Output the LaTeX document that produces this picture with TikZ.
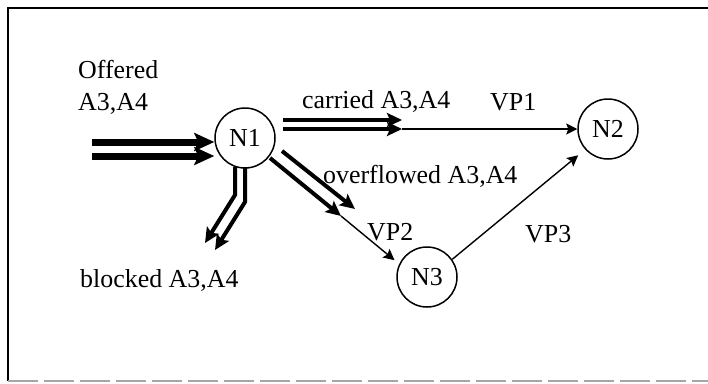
\documentclass[tikz,border=0pt]{standalone}
\usepackage{fontspec}
\setmainfont{Liberation Serif}
\usetikzlibrary{arrows.meta}
\tikzstyle{vnode} = [circle, draw=black, line width=1.5bp, minimum size=60bp, inner sep=0pt]
\tikzstyle{txt} = [anchor=base west, inner sep=0pt]
\tikzstyle{fatarrow} = [line width=7bp, -{Stealth[length=20bp, width=18bp, inset=4bp]}]
\tikzstyle{flowarrow} = [line width=4bp, -{Stealth[length=15bp, width=14bp, inset=3bp]}]
\tikzstyle{vparrow} = [line width=1.4bp, -{Stealth[length=11bp, width=11bp, inset=2bp]}]

\begin{document}
\begin{tikzpicture}[x=1bp, y=-1bp]
			\fontsize{26}{32}\selectfont
			\useasboundingbox (0,0) rectangle (708,383);
			% frame
			\draw [line width=2.5bp] (708,8) -- (8,8) -- (8,381);
			\draw [gray!70, line width=2bp, dash pattern=on 30bp off 6bp] (8,381) -- (708,381);
			% nodes
			\node (N1) [vnode] at (245,138) {N1};
			\node (N2) [vnode] at (608,129) {N2};
			\node (N3) [vnode] at (427,277) {N3};
			% labels
			\node (offered) [anchor=north west, inner sep=0pt, align=left] at (78,60) {Offered\\A3,A4};
			\node (carried) [txt] at (302,108) {carried A3,A4};
			\node (overflowed) [txt] at (323,183) {overflowed A3,A4};
			\node (blocked) [txt] at (80,287) {blocked A3,A4};
			\node (VP1) [txt] at (490,110) {VP1};
			\node (VP2) [txt] at (367,240) {VP2};
			\node (VP3) [txt] at (525,242) {VP3};
			% offered
			\coordinate (in1) at (92,142);
			\coordinate (in2) at (92,156);
			\draw [fatarrow] (in1) -- (in1 -| N1.west);
			\draw [fatarrow] (in2) -- (in2 -| N1.west);
			% carried
			\coordinate (c1) at (283,120);
			\coordinate (c1e) at (402,120);
			\coordinate (c2) at (283,129);
			\coordinate (vp1) at (402,129);
			\draw [flowarrow] (c1) -- (c1e);
			\draw [flowarrow] (c2) -- (vp1);
			\draw [vparrow] (vp1) -- (N2.west);
			% overflowed
			\coordinate (o1) at (282,151);
			\coordinate (o1e) at (355,209);
			\coordinate (o2) at (270,158);
			\coordinate (vp2) at (341,216);
			\draw [flowarrow] (o1) -- (o1e);
			\draw [flowarrow] (o2) -- (vp2);
			\draw [vparrow, shorten >=6bp] (vp2) -- (N3.155);
			% blocked
			\coordinate (b1) at (235,167);
			\coordinate (b1m) at (235,195);
			\coordinate (b1e) at (205,243);
			\coordinate (b2) at (245,168);
			\coordinate (b2m) at (245,202);
			\coordinate (b2e) at (215,250);
			\draw [flowarrow] (b1) -- (b1m) -- (b1e);
			\draw [flowarrow] (b2) -- (b2m) -- (b2e);
			% VP3
			\draw [vparrow, shorten >=9bp] (N3.35) -- (N2.222);
		\end{tikzpicture}
\end{document}
